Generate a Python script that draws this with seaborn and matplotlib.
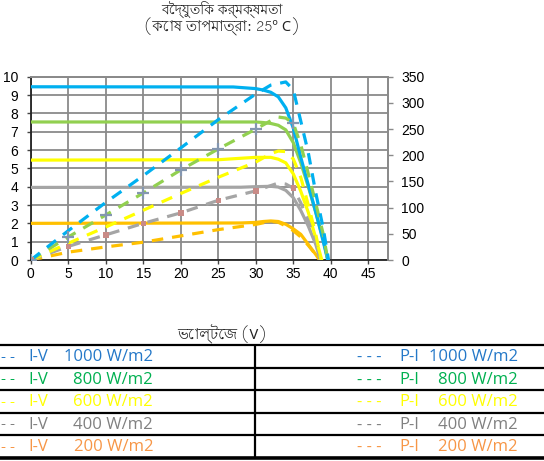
import numpy as np
import pandas as pd
import matplotlib
matplotlib.use("Agg")
import matplotlib.pyplot as plt
import seaborn as sns
from matplotlib import font_manager as fm

# ---------------- data ----------------
levels = ["1000", "800", "600", "400", "200"]

iv_v_1000 = [0, 27, 30, 31, 32, 33, 34, 35, 36, 37, 38, 39, 39.6]
iv_i_1000 = [9.45, 9.44, 9.35, 9.27, 9.15, 8.9, 8.3, 7.2, 5.6, 4.1, 2.6, 1.0, 0]
iv_v_800 = [0, 30, 31, 32, 33, 34, 35, 36, 37, 38, 39, 39.6]
iv_i_800 = [7.53, 7.53, 7.5, 7.45, 7.35, 7.1, 6.4, 5.3, 4.0, 2.6, 1.1, 0]
iv_v_600 = [0, 25, 28, 30, 32, 33, 34, 35, 36, 37, 38, 38.8]
iv_i_600 = [5.45, 5.47, 5.55, 5.6, 5.6, 5.5, 5.3, 4.7, 3.75, 2.6, 1.2, 0]
iv_v_400 = [0, 28, 30, 32, 33, 34, 35, 36, 37, 38, 38.6]
iv_i_400 = [3.96, 3.97, 4.0, 4.02, 3.98, 3.8, 3.4, 2.7, 1.85, 0.85, 0]
iv_v_200 = [0, 28, 30, 31, 32, 33, 34, 35, 36, 37, 38, 38.5]
iv_i_200 = [2.0, 2.02, 2.05, 2.1, 2.13, 2.1, 1.95, 1.7, 1.4, 0.85, 0.3, 0]

pv_v_1000 = [0, 5, 10, 15, 20, 25, 30, 32, 34, 35, 36, 37, 38, 39, 39.7]
pv_p_1000 = [0, 56, 110, 161, 214, 268, 317, 334, 340, 325, 265, 205, 128, 60, 0]
pv_v_800 = [0, 5, 10, 15, 20, 25, 30, 32, 33, 34, 35, 36, 37, 38, 39, 39.6]
pv_p_800 = [0, 44, 86, 128, 172, 212, 250, 266, 273, 271, 261, 220, 165, 108, 49, 0]
pv_v_600 = [0, 5, 10, 15, 20, 25, 30, 32, 33, 34, 35, 36, 37, 38, 38.7]
pv_p_600 = [0, 32, 63, 95, 127, 158, 187, 203, 208, 207, 193, 158, 105, 49, 0]
pv_v_400 = [0, 5, 10, 15, 20, 25, 30, 32, 33, 34, 35, 36, 37, 38, 38.6]
pv_p_400 = [0, 26, 48, 70, 90, 114, 132, 142, 147, 145, 137, 109, 74, 35, 0]
pv_v_200 = [0, 5, 10, 15, 20, 25, 30, 32, 33, 34, 35, 36, 37, 38, 38.4]
pv_p_200 = [0, 15, 25, 34, 46, 58, 68, 74, 72, 65, 56, 44, 28, 10, 0]

mk_v = [0, 5, 10, 15, 20, 25, 30, 35]
mk_plus_p = [0, 44, 86, 128, 172, 212, 250, 261]
mk_sq_p = [0, 26, 48, 70, 90, 114, 132, 137]

x_ticks = [0, 5, 10, 15, 20, 25, 30, 35, 40, 45]
yl_ticks = list(range(0, 11))
yr_ticks = [0, 50, 100, 150, 200, 250, 300, 350]

title_l1 = "বৈদ্যুতিক কর্মক্ষমতা"
title_l2 = "(কোষ তাপমাত্রা: 25º C)"
x_label = "ভোল্টেজ (V)"

line_colors = ["#00B0F0", "#92D050", "#FFFF00", "#A5A5A5", "#FFC000"]
text_colors = ["#2478C8", "#00B050", "#FFFF00", "#808080", "#F79646"]

# ---------------- fonts ----------------
def find_bengali_font():
    try:
        from fontTools.ttLib import TTFont
    except Exception:
        return None
    cands = sorted(fm.fontManager.ttflist, key=lambda f: 0 if "beng" in f.name.lower() else 1)
    for f in cands:
        try:
            tt = TTFont(f.fname, fontNumber=0, lazy=True)
            cmap = tt.getBestCmap()
            if cmap and 0x0995 in cmap:
                return f.name
        except Exception:
            continue
    return None

sns.set_theme(style="white")
beng = find_bengali_font()
bfam = ([beng] if beng else []) + ["Noto Sans", "DejaVu Sans"]
plt.rcParams["font.family"] = ["Liberation Sans", "DejaVu Sans"]

W, H = 544, 461
fig = plt.figure(figsize=(W / 100, H / 100), dpi=100)
fig.patch.set_facecolor("white")

ax = fig.add_axes([30.8 / W, (H - 260) / H, (388.3 - 30.8) / W, 183.3 / H])
ax2 = ax.twinx()

iv = [(iv_v_1000, iv_i_1000), (iv_v_800, iv_i_800), (iv_v_600, iv_i_600),
      (iv_v_400, iv_i_400), (iv_v_200, iv_i_200)]
pv = [(pv_v_1000, pv_p_1000), (pv_v_800, pv_p_800), (pv_v_600, pv_p_600),
      (pv_v_400, pv_p_400), (pv_v_200, pv_p_200)]

for k in range(4, -1, -1):
    df = pd.DataFrame({"V": iv[k][0], "I": iv[k][1]})
    sns.lineplot(data=df, x="V", y="I", ax=ax, color=line_colors[k], lw=2.3,
                 sort=False, estimator=None, zorder=3)
for k in range(4, -1, -1):
    df = pd.DataFrame({"V": pv[k][0], "P": pv[k][1]})
    sns.lineplot(data=df, x="V", y="P", ax=ax2, color=line_colors[k], lw=2.3,
                 sort=False, estimator=None, zorder=3)
    ax2.lines[-1].set_dashes((3.6, 2.8))

sns.scatterplot(x=mk_v, y=mk_sq_p, ax=ax2, marker="s", s=16, color="#C98B87",
                edgecolor="none", zorder=5)
sns.scatterplot(x=mk_v, y=mk_plus_p, ax=ax2, marker="+", s=80, color="#8497B0",
                linewidth=1.6, zorder=6)

ax.set_xlim(0, 47.67)
ax.set_ylim(0, 10)
ax2.set_ylim(0, 350)
ax.set_xticks(x_ticks)
ax.set_yticks(yl_ticks)
ax2.set_yticks(yr_ticks)
ax.set_xlabel("")
ax.set_ylabel("")
ax2.set_ylabel("")

grid_c = "#8A8A8A"
ax.grid(True, color=grid_c, lw=1.3)
ax.set_axisbelow(True)
ax2.grid(False)
for a in (ax, ax2):
    for s in a.spines.values():
        s.set_color(grid_c)
        s.set_linewidth(1.3)
ax.spines["left"].set_color("#222222")
ax.spines["bottom"].set_color("#222222")
ax2.spines["left"].set_visible(False)
ax2.spines["bottom"].set_visible(False)

ax.tick_params(axis="x", direction="out", length=3, width=1, color="#444444",
               pad=2, labelsize=10, labelcolor="black", bottom=True)
ax.tick_params(axis="y", direction="out", length=3, width=1, color="#444444",
               pad=6, labelsize=10, labelcolor="black", left=True)
ax2.tick_params(axis="y", direction="out", length=3.5, width=1, color=grid_c,
                pad=6, labelsize=10, labelcolor="black", right=True)

# ---------------- overlay (titles, table) ----------------
ov = fig.add_axes([0, 0, 1, 1], zorder=10)
ov.set_xlim(0, W)
ov.set_ylim(H, 0)
ov.axis("off")
ov.patch.set_alpha(0)

ov.text(222, 1, title_l1, ha="center", va="top", fontsize=10, family=bfam, color="#222222")
ov.text(222, 27, title_l2, ha="center", va="center", fontsize=10.5, family=bfam, color="#222222")
ov.text(222, 334, x_label, ha="center", va="center", fontsize=10.5, family=bfam, color="#222222")

rows_y = [345, 368, 390, 413, 435]
for yy in rows_y:
    ov.plot([0, W], [yy, yy], color="black", lw=1.6, solid_capstyle="butt")
ov.plot([0, W], [458, 458], color="black", lw=2.6, solid_capstyle="butt")
ov.plot([255, 255], [345, 458], color="black", lw=1.6, solid_capstyle="butt")

tf = ["Open Sans", "Noto Sans", "DejaVu Sans"]
fs = 12
for k in range(5):
    yc = (rows_y[k] + (rows_y[k + 1] if k < 4 else 458)) / 2 + 0.5
    c = text_colors[k]
    ov.text(1, yc, "- -", ha="left", va="center", fontsize=fs - 1, family=tf, color=c)
    ov.text(28, yc, "I-V", ha="left", va="center", fontsize=fs, family=tf, color=c)
    ov.text(153, yc, f"{levels[k]} W/m2", ha="right", va="center", fontsize=fs, family=tf, color=c)
    ov.text(357, yc, "- - -", ha="left", va="center", fontsize=fs, family=tf, color=c)
    ov.text(399, yc, "P-I", ha="left", va="center", fontsize=fs, family=tf, color=c)
    ov.text(518, yc, f"{levels[k]} W/m2", ha="right", va="center", fontsize=fs, family=tf, color=c)

fig.savefig("out.png", dpi=100)
